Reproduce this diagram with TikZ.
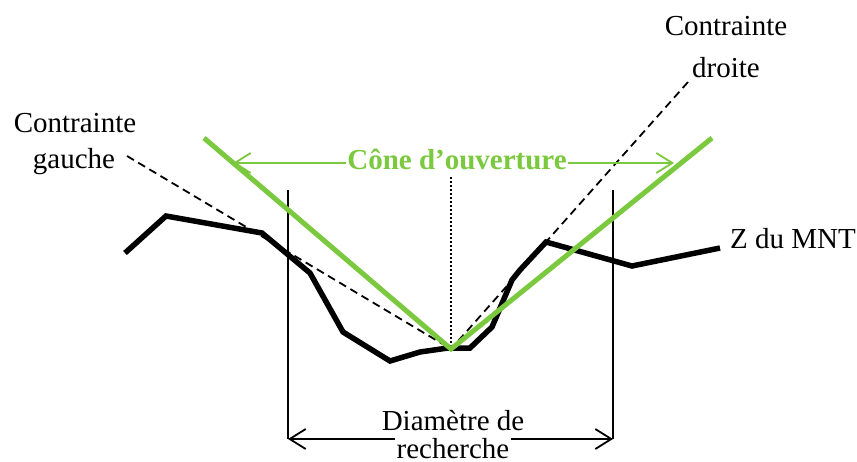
\documentclass[tikz,border=0pt]{standalone}
\usepackage{fontspec}
\setmainfont{Liberation Serif}
\usetikzlibrary{arrows.meta}
\definecolor{vert}{RGB}{122,201,62}
\begin{document}
\begin{tikzpicture}[x=1pt,y=-1pt,
  lbl/.style={font=\fontsize{29}{33}\selectfont, inner sep=0pt, anchor=base},
  terrain/.style={line width=5.5pt, line join=miter, black},
  cone/.style={line width=5pt, vert},
  thin/.style={line width=1.8pt, black},
  dashedline/.style={line width=1.8pt, dash pattern=on 8pt off 5pt},
  dottedline/.style={line width=2pt, dash pattern=on 2pt off 2pt},
  bothtips/.style={{Straight Barb[length=16pt,width=20pt]}-{Straight Barb[length=16pt,width=20pt]}}]
\useasboundingbox (0,0) rectangle (857,461);

% coordinates
\coordinate (apex) at (451,349);
\coordinate (lt) at (288,190);
\coordinate (lb) at (288,439);
\coordinate (rt) at (613,190);
\coordinate (rb) at (613,439);
\coordinate (gl) at (204,138);
\coordinate (gr) at (712,138);
\coordinate (cl) at (127,156);
\coordinate (cr) at (688,82);
\coordinate (dtop) at (451,177);
\coordinate (al) at (233,163);
\coordinate (ar) at (674,163);

% vertical bounds
\draw[thin] (lt) -- (lb);
\draw[thin] (rt) -- (rb);

% dimension arrow
\draw[thin, bothtips] (lb) -- (rb);

% dashed constraints
\draw[dashedline] (cl) -- (apex);
\draw[dashedline] (cr) -- (apex);

% dotted axis
\draw[dottedline] (dtop) -- (apex);

% terrain
\draw[terrain] (125,253) -- (166,216) -- (262,233) -- (310,273) -- (343,332)
  -- (390,361) -- (420,352) -- (448,348) -- (470,348) -- (492,327)
  -- (512,280) -- (520,270) -- (546,242) -- (632,266) -- (720,248);

% green cone
\draw[cone] (gl) -- (apex) -- (gr);

% green opening arrow
\draw[vert, line width=1.8pt, bothtips] (al) -- (ar);
\node[lbl, font=\fontsize{29}{33}\selectfont\bfseries, text=vert, fill=white, inner xsep=1pt, inner ysep=2pt] (cone) at (457,169) {Cône d’ouverture};

% labels
\node[lbl] (cg1) at (75,132) {Contrainte};
\node[lbl] (cg2) at (74,168) {gauche};
\node[lbl] (cd1) at (726,35) {Contrainte};
\node[lbl] (cd2) at (726,77) {droite};
\node[lbl, anchor=base west] (z) at (730,248) {Z du MNT};
\node[lbl] (d1) at (453,430) {Diamètre de};
\node[lbl, fill=white, text height=24pt, inner xsep=2pt] (d2) at (453,458) {recherche};
\end{tikzpicture}
\end{document}
